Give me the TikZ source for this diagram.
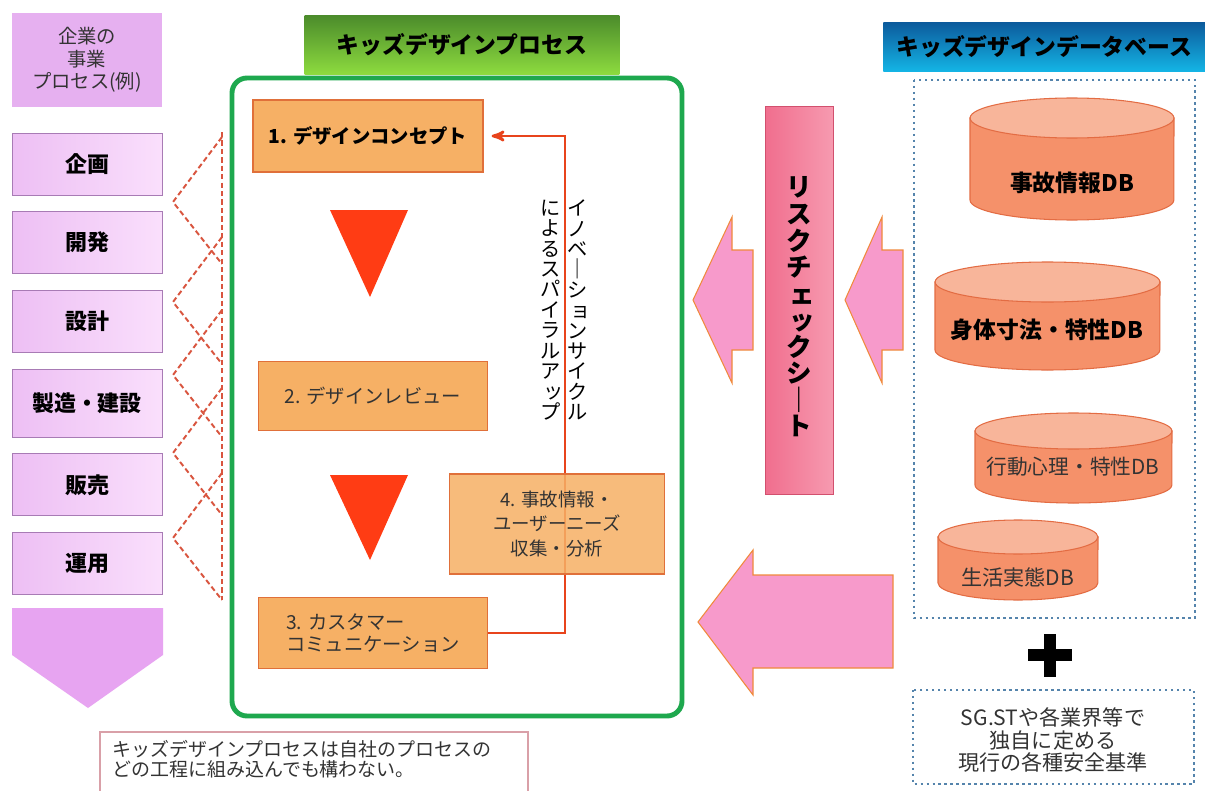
\documentclass[tikz,border=0pt]{standalone}
\usepackage{fontspec}
\setmainfont{Noto Sans CJK JP}
\usetikzlibrary{arrows,positioning}

\definecolor{hdrpurple}{HTML}{E6B0F0}
\definecolor{phaseL}{HTML}{EDBFF4}
\definecolor{phaseR}{HTML}{FADFFC}
\definecolor{phaseline}{HTML}{A87BB5}
\definecolor{chevfill}{HTML}{E7A4F1}
\definecolor{tabgreentop}{HTML}{4B8B2B}
\definecolor{tabgreenbot}{HTML}{8EDC3F}
\definecolor{framegreen}{HTML}{1EA84E}
\definecolor{procfill}{HTML}{F6B065}
\definecolor{procline}{HTML}{E0703A}
\definecolor{redtri}{HTML}{FF3C14}
\definecolor{cycred}{HTML}{E8441C}
\definecolor{sheetL}{HTML}{F06E8E}
\definecolor{sheetR}{HTML}{F79AB0}
\definecolor{sheetline}{HTML}{D2506E}
\definecolor{arrowfill}{HTML}{F79ACB}
\definecolor{arrowline}{HTML}{F08A3C}
\definecolor{tabbluetop}{HTML}{0C5A9C}
\definecolor{tabbluebot}{HTML}{14B6E6}
\definecolor{dotblue}{HTML}{5584AC}
\definecolor{dbbody}{HTML}{F5916A}
\definecolor{dbtop}{HTML}{F8B59A}
\definecolor{dbline}{HTML}{E36C43}
\definecolor{textgray}{HTML}{333333}
\definecolor{noteline}{HTML}{D9A0A8}
\definecolor{linkred}{HTML}{D9553F}

\tikzset{
    %Define standard arrow tip
    >=stealth',
    % Define cycle arrow style
    cyc/.style={
           ->,
           draw=cycred,
           line width=1.5pt,
           shorten >=0.16cm,},
    % Dashed links from the company process
    linkdash/.style={
           draw=linkred,
           dash pattern=on 3pt off 1.8pt,
           line width=1.1pt,}
}

% small kana in vertical text
\newcommand{\sk}[1]{\makebox[1em][l]{\hspace{0.12em}#1}}

% cylinder: left, right, top centre, bottom centre, y radius (px)
\newcommand{\dbcyl}[5]{%
  \pgfmathsetmacro\dbrx{(#2-#1)*0.01}%
  \pgfmathsetmacro\dbry{#5*0.02}%
  \filldraw[draw=dbline, fill=dbbody, line width=0.6pt]
     (#1,#3) -- (#1,#4) arc [start angle=180, end angle=360, x radius=\dbrx cm, y radius=\dbry cm] -- (#2,#3) -- cycle;
  \filldraw[draw=dbline, fill=dbtop, line width=0.6pt]
     ({(#1+#2)/2},#3) ellipse [x radius=\dbrx cm, y radius=\dbry cm];
}

\begin{document}
\begin{tikzpicture}[x=0.02cm, y=-0.02cm,
hdrbox/.style={fill=hdrpurple, minimum width=3cm, minimum height=1.9cm,
    align=center, text=textgray, font=\fontsize{11}{12.8}\selectfont},
phasebox/.style={draw=phaseline, left color=phaseL, right color=phaseR,
    minimum width=3cm, minimum height=1.24cm,
    font=\fontsize{12.5}{14}\selectfont\bfseries},
tabbox/.style={minimum height=1.2cm, inner sep=0pt,
    font=\fontsize{13}{15}\selectfont\bfseries},
stepbox/.style={draw=procline, fill=procfill, line width=0.7pt, inner sep=0pt,
    align=center, font=\fontsize{11}{12.5}\selectfont},
tatetext/.style={align=center, inner sep=0pt},
blockarr/.style={draw=arrowline, fill=arrowfill, line width=0.6pt},
dotbox/.style={draw=dotblue, dotted, line width=1.4pt},
dblabel/.style={font=\fontsize{13}{15}\selectfont\bfseries},
]
\clip (0,0) rectangle (1205,791);
\fill[white] (0,0) rectangle (1205,791);

%Company process (left column)
\node[hdrbox](hdr) at (87,60) {企業の\\事業\\プロセス(例)};
\node[phasebox](plan) at (87,164) {企画};
\node[phasebox](devel)[below=0.32cm of plan] {開発};
\node[phasebox](design)[below=0.32cm of devel] {設計};
\node[phasebox, minimum height=1.36cm](build)[below=0.32cm of design] {製造・建設};
\node[phasebox](sales)[below=0.32cm of build] {販売};
\node[phasebox](oper)[below=0.32cm of sales] {運用};
\fill[chevfill] (12,608) -- (163,608) -- (163,655) -- (88,708) -- (12,655) -- cycle;

%Dashed links into the kids design process
\draw[linkdash] (222,132) -- (222,600);
\foreach \v in {202,302,375,453,538}
    \draw[linkdash] (222,{\v-65}) -- (173,\v) -- (222,{\v+62});

%Kids design process
\node[tabbox, minimum width=6.3cm, top color=tabgreentop, bottom color=tabgreenbot](kdp) at (462,45) {キッズデザインプロセス};
\draw[framegreen, line width=2.8pt, rounded corners=0.3cm] (232,78) rectangle (682,716);

\node[stepbox, minimum width=4.6cm, minimum height=1.44cm, font=\fontsize{11}{12.5}\selectfont\bfseries](concept) at (368,136) {1. デザインコンセプト};
\node[stepbox, minimum width=4.58cm, minimum height=1.38cm, text=textgray](review) at (373,396) {2. デザインレビュー};
\node[stepbox, minimum width=4.58cm, minimum height=1.42cm, text=textgray, align=left](custom) at (373,633) {3. カスタマー\\コミュニケーション};

\fill[redtri] (330,210) -- (408,210) -- (370,297) -- cycle;
\fill[redtri] (330,475) -- (408,475) -- (370,560) -- cycle;

\coordinate (turnA) at (565,633);
\coordinate (turnB) at (565,136);
\draw[cyc] (custom.east) -- (turnA) -- (turnB) -- (concept.east);

\node[stepbox, minimum width=4.3cm, minimum height=2cm, fill opacity=0.85, text opacity=1, text=textgray, font=\fontsize{10.5}{14}\selectfont](collect) at (557,524) {4. 事故情報・\\ユーザーニーズ\\収集・分析};

\node[tatetext, text=black, font=\fontsize{11.5}{11.6}\selectfont](spiralR) at (578,310)
  {イ\\ノ\\ベ\\｜\\シ\\\sk{ョ}\\ン\\サ\\イ\\ク\\ル};
\node[tatetext, text=black, font=\fontsize{11.5}{11.6}\selectfont](spiralL) at (551,310)
  {に\\よ\\る\\ス\\パ\\イ\\ラ\\ル\\ア\\\sk{ッ}\\プ};

%Risk check sheet and arrows
\node[draw=sheetline, left color=sheetL, right color=sheetR, minimum width=1.36cm, minimum height=7.76cm](sheet) at (799,300) {};
\node[tatetext, font=\fontsize{14.5}{15.1}\selectfont\bfseries](sheettext) at (799,307)
  {リ\\ス\\ク\\チ\\\sk{ェ}\\\sk{ッ}\\ク\\シ\\｜\\ト};

\filldraw[blockarr] (693,300) -- (732,217) -- (732,250) -- (753,250) -- (753,350) -- (732,350) -- (732,383) -- cycle;
\filldraw[blockarr] (845,300) -- (882,217) -- (882,250) -- (903,250) -- (903,350) -- (882,350) -- (882,383) -- cycle;
\filldraw[blockarr] (698,622) -- (753,550) -- (753,575) -- (893,575) -- (893,668) -- (753,668) -- (753,695) -- cycle;

%Kids design database
\node[tabbox, minimum width=6.44cm, minimum height=1cm, top color=tabbluetop, bottom color=tabbluebot, anchor=west](kdb) at (883,47) {キッズデザインデータベース};
\draw[dotbox] (914,80) rectangle (1195,618);

\dbcyl{970}{1174}{118}{200}{20}
\node[dblabel](db1) at (1072,183) {事故情報DB};
\dbcyl{935}{1160}{282}{350}{20}
\node[dblabel](db2) at (1047,330) {身体寸法・特性DB};
\dbcyl{975}{1172}{431}{485}{18}
\node[dblabel, font=\fontsize{11.8}{14}\selectfont, text=textgray](db3) at (1073,467) {行動心理・特性DB};
\dbcyl{938}{1098}{537}{583}{17}
\node[dblabel, font=\fontsize{12}{14}\selectfont, text=textgray](db4) at (1018,577) {生活実態DB};

%Plus and safety standards
\fill (1028,649) rectangle (1072,661);
\fill (1044,634) rectangle (1056,677);
\draw[dotbox] (913,690) rectangle (1194,784);
\node[align=center, text=textgray, font=\fontsize{12}{13}\selectfont](std) at (1053,740) {SG.STや各業界等で\\独自に定める\\現行の各種安全基準};

%Note
\draw[noteline, line width=0.6pt] (100,732) rectangle (528,810);
\node[anchor=west, align=left, text=textgray, font=\fontsize{10.8}{11.5}\selectfont](note) at (106,759) {キッズデザインプロセスは自社のプロセスの\\どの工程に組み込んでも構わない。};

\end{tikzpicture}
\end{document}
